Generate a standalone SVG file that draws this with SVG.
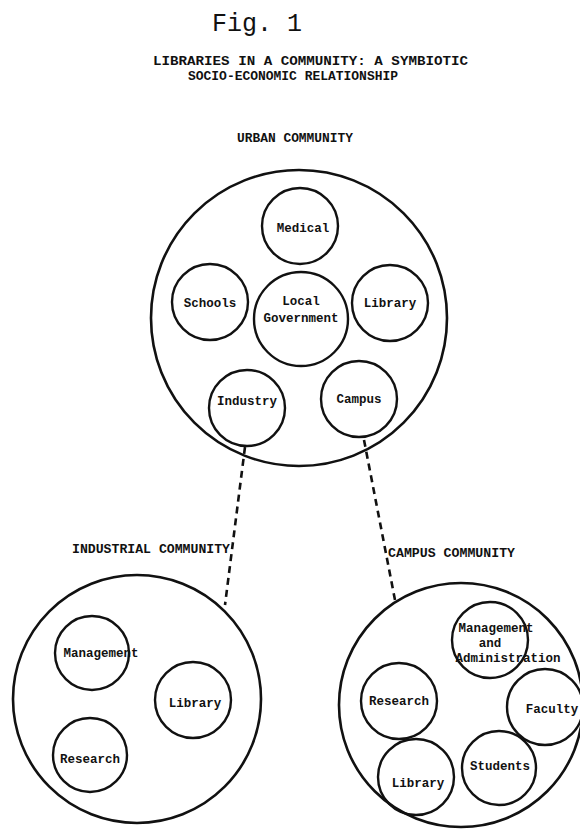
<svg xmlns="http://www.w3.org/2000/svg" width="580" height="835" viewBox="0 0 580 835">
<style>
.c{fill:none;stroke:#111;stroke-width:2.4}
.C{fill:none;stroke:#111;stroke-width:2.6}
.t{font-family:"Liberation Mono","DejaVu Sans Mono",monospace;font-weight:bold;font-size:12.5px;fill:#111;text-anchor:middle}
.h{font-family:"Liberation Mono","DejaVu Sans Mono",monospace;font-weight:bold;font-size:12px;fill:#111}
.d{fill:none;stroke:#111;stroke-width:2.6;stroke-dasharray:7 5}
</style>
<rect width="580" height="835" fill="#fff"/>
<text x="212" y="31" font-family="Liberation Mono, monospace" font-size="25" fill="#111">Fig. 1</text>
<text class="h" x="153" y="65" textLength="315" lengthAdjust="spacingAndGlyphs">LIBRARIES IN A COMMUNITY: A SYMBIOTIC</text>
<text class="h" x="188" y="80" textLength="210" lengthAdjust="spacingAndGlyphs">SOCIO-ECONOMIC RELATIONSHIP</text>
<text class="h" x="237" y="142" textLength="116" lengthAdjust="spacingAndGlyphs">URBAN COMMUNITY</text>
<text class="h" x="72" y="553" textLength="158" lengthAdjust="spacingAndGlyphs">INDUSTRIAL COMMUNITY</text>
<text class="h" x="388" y="557" textLength="127" lengthAdjust="spacingAndGlyphs">CAMPUS COMMUNITY</text>
<g id="connectors">
<path class="d" d="M245,447 L225,605"/>
<path class="d" d="M364,440 L395,600"/>
</g>
<g id="urban"><circle class="C" cx="299" cy="318" r="148"/></g>
<g id="medical"><circle class="c" cx="300" cy="226" r="38"/><text class="t" x="303" y="232">Medical</text></g>
<g id="schools"><circle class="c" cx="210" cy="302" r="38"/><text class="t" x="210" y="307">Schools</text></g>
<g id="localgov"><circle class="c" cx="301" cy="319" r="47"/><text class="t" x="301" y="305">Local</text><text class="t" x="301" y="322">Government</text></g>
<g id="library-urban"><circle class="c" cx="390" cy="303" r="38"/><text class="t" x="390" y="307">Library</text></g>
<g id="industry"><circle class="c" cx="247" cy="408" r="38"/><text class="t" x="247" y="405">Industry</text></g>
<g id="campus"><circle class="c" cx="359" cy="399" r="38"/><text class="t" x="359" y="403">Campus</text></g>
<g id="industrial"><circle class="C" cx="137" cy="699" r="124"/></g>
<g id="management-ind"><circle class="c" cx="92" cy="653" r="37"/><text class="t" x="101" y="657">Management</text></g>
<g id="library-ind"><circle class="c" cx="193" cy="700" r="38"/><text class="t" x="195" y="707">Library</text></g>
<g id="research-ind"><circle class="c" cx="90" cy="755" r="37"/><text class="t" x="90" y="763">Research</text></g>
<g id="campuscomm"><circle class="C" cx="461" cy="705" r="122"/></g>
<g id="mgmt-admin"><circle class="c" cx="490" cy="640" r="38"/><text class="t" x="496" y="632">Management</text><text class="t" x="490" y="647">and</text><text class="t" x="508" y="662">Administration</text></g>
<g id="research-camp"><circle class="c" cx="399" cy="701" r="38"/><text class="t" x="399" y="705">Research</text></g>
<g id="faculty"><circle class="c" cx="545" cy="707" r="38"/><text class="t" x="552" y="713">Faculty</text></g>
<g id="students"><circle class="c" cx="499" cy="768" r="37"/><text class="t" x="500" y="770">Students</text></g>
<g id="library-camp"><circle class="c" cx="416" cy="777" r="38"/><text class="t" x="418" y="787">Library</text></g>
</svg>
